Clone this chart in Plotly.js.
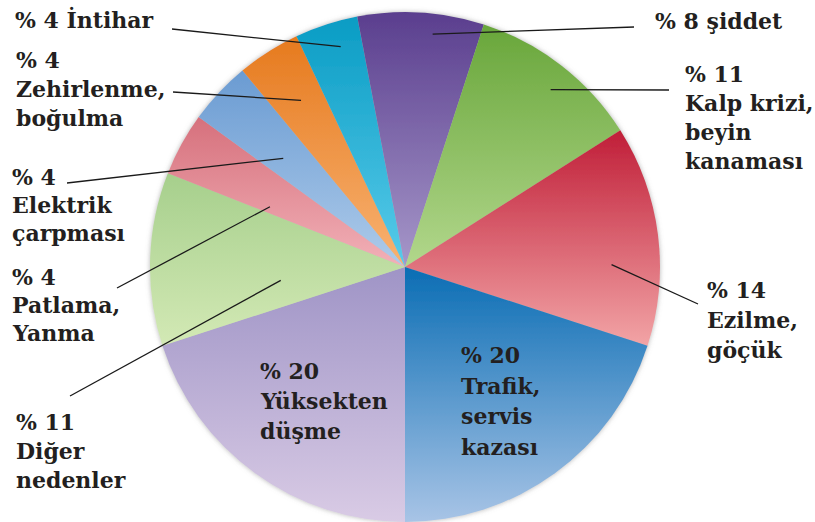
<!DOCTYPE html>
<html>
<head>
<meta charset="utf-8">
<script src="https://cdn.plot.ly/plotly-3.0.1.min.js"></script>
<style>html,body{margin:0;padding:0;background:#fff;}#chart{width:815px;height:522px;}</style>
</head>
<body>
<div id="chart"></div>
<script>
// ---- data ----
const categories = ['Yüksekten düşme','Diğer nedenler','Patlama, Yanma','Elektrik çarpması','Zehirlenme, boğulma','İntihar','şiddet','Kalp krizi, beyin kanaması','Ezilme, göçük','Trafik, servis kazası'];
const values = [20, 11, 4, 4, 4, 4, 8, 11, 14, 20];
const nameLines = [['Yüksekten','düşme'],['Diğer','nedenler'],['Patlama,','Yanma'],['Elektrik','çarpması'],['Zehirlenme,','boğulma'],['İntihar'],['şiddet'],['Kalp krizi,','beyin','kanaması'],['Ezilme,','göçük'],['Trafik,','servis','kazası']];
const inlineValue = [false,false,false,false,false,true,true,false,false,false];

// ---- styles / label layout (pixels) ----
const gradTop    = ['#9f94c6','#a6cf8c','#d6707c','#6a9bd2','#e67a1e','#0a9cc4','#5a3e8e','#68a63a','#c01e38','#0a6db4'];
const gradBottom = ['#d9cbe5','#d3e9b5','#f2b1b8','#aecbea','#f8b272','#58cbea','#a697c9','#b2d78c','#f2a4a6','#a8c4e6'];
const labelPos = [
  {x:258, y:379, dy:30},
  {x:14,  y:430, dy:29, lx:70,  ly:396, frac:0.30, rf:0.49},
  {x:10,  y:285, dy:28, lx:117, ly:288, frac:0.17, rf:0.58},
  {x:10,  y:185, dy:28, lx:67,  ly:183, frac:0.40, rf:0.64},
  {x:14,  y:68,  dy:29, lx:173, ly:92,  frac:0.53, rf:0.77},
  {x:13,  y:27,  dy:29, lx:172, ly:29,  frac:0.62, rf:0.90},
  {x:653, y:29,  dy:29, lx:634, ly:27,  frac:0.61, rf:0.92},
  {x:683, y:82,  dy:29, lx:669, ly:90,  frac:0.54, rf:0.90},
  {x:705, y:298, dy:30, lx:698, ly:304, frac:0.63, rf:0.81},
  {x:459, y:363, dy:30.5}
];

const W = 815, H = 522;
const CX = 405, CY = 267, R = 255, ROT = 180;
const FS = 22;
const font = {family:'DejaVu Serif', size:FS, color:'#231f20', weight:'bold'};

const total = values.reduce((a,b)=>a+b,0);
const annotations = [];
const shapes = [];
let cum = 0;
values.forEach((v,i)=>{
  const a0 = ROT + cum/total*360;
  const a1 = ROT + (cum+v)/total*360;
  cum += v;
  const p = labelPos[i];
  const lines = inlineValue[i] ? ['% ' + v + ' ' + nameLines[i].join(' ')] : ['% ' + v].concat(nameLines[i]);
  lines.forEach((t,k)=>{
    const base = p.y + k*p.dy;
    annotations.push({
      text:t, showarrow:false, xref:'paper', yref:'paper',
      x:p.x/W, y:1-(base - 0.346*FS)/H, xanchor:'left', yanchor:'middle',
      font:font
    });
  });
  if (p.lx !== undefined) {
    const ang = (a0 + p.frac*(a1-a0)) * Math.PI/180;
    const ix = CX + p.rf*R*Math.sin(ang);
    const iy = CY - p.rf*R*Math.cos(ang);
    shapes.push({type:'line', xref:'paper', yref:'paper',
      x0:p.lx/W, y0:1-p.ly/H, x1:ix/W, y1:1-iy/H,
      line:{color:'#1a1a1a', width:1.3}});
  }
});

const trace = {
  type:'pie', labels:categories, values:values, sort:false,
  direction:'clockwise', rotation:ROT, textinfo:'none', hoverinfo:'none',
  marker:{colors:gradTop, line:{width:0}},
  domain:{x:[(CX-R)/W,(CX+R)/W], y:[1-(CY+R)/H, 1-(CY-R)/H]},
  showlegend:false
};

Plotly.newPlot('chart',[trace],{
  width:W, height:H, margin:{l:0,r:0,t:0,b:0},
  paper_bgcolor:'#fff', plot_bgcolor:'#fff',
  annotations:annotations, shapes:shapes, showlegend:false
},{staticPlot:true}).then(gd=>{
  const svg = gd.querySelector('svg.main-svg');
  const NS = 'http://www.w3.org/2000/svg';
  const defs = document.createElementNS(NS,'defs');
  gradTop.forEach((c,i)=>{
    const g = document.createElementNS(NS,'linearGradient');
    g.setAttribute('id','pg'+i);
    g.setAttribute('x1','0'); g.setAttribute('y1','0');
    g.setAttribute('x2','0'); g.setAttribute('y2','1');
    const s0 = document.createElementNS(NS,'stop');
    s0.setAttribute('offset','0'); s0.setAttribute('stop-color',c);
    const s1 = document.createElementNS(NS,'stop');
    s1.setAttribute('offset','1'); s1.setAttribute('stop-color',gradBottom[i]);
    g.appendChild(s0); g.appendChild(s1); defs.appendChild(g);
  });
  const f = document.createElementNS(NS,'filter');
  f.setAttribute('id','pieshadow');
  f.setAttribute('x','-10%'); f.setAttribute('y','-10%');
  f.setAttribute('width','120%'); f.setAttribute('height','120%');
  f.innerHTML = '<feGaussianBlur in="SourceAlpha" stdDeviation="2.5" result="b"/>' +
    '<feFlood flood-color="#777" flood-opacity="0.55"/>' +
    '<feComposite in2="b" operator="in" result="s"/>' +
    '<feMerge><feMergeNode in="s"/><feMergeNode in="SourceGraphic"/></feMerge>';
  defs.appendChild(f);
  svg.insertBefore(defs, svg.firstChild);
  gd.querySelectorAll('.slice path.surface').forEach((p,i)=>{
    p.style.fill = 'url(#pg'+i+')';
  });
  const pl = gd.querySelector('.pielayer');
  if (pl) pl.setAttribute('filter','url(#pieshadow)');
});
</script>
</body>
</html>
